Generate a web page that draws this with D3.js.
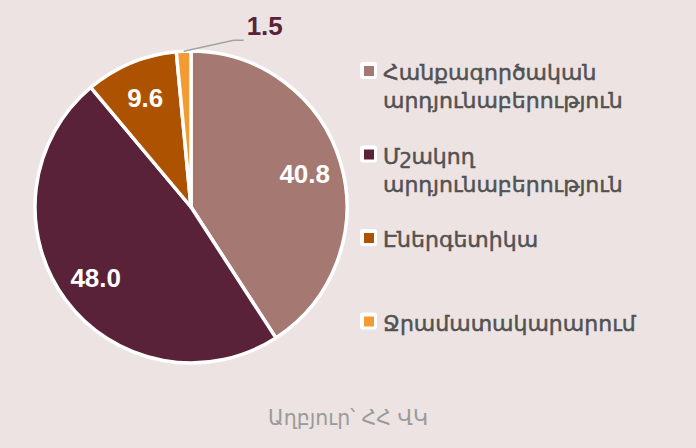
<!DOCTYPE html>
<html><head><meta charset="utf-8">
<script src="https://cdn.jsdelivr.net/npm/d3@7"></script>
<style>
html,body{margin:0;padding:0;background:#ede3e3;}
svg{display:block;}
</style></head>
<body>
<svg id="chart" width="696" height="448"></svg>
<script>
const categories = ["Հանքագործական արդյունաբերություն", "Մշակող արդյունաբերություն", "Էներգետիկա", "Ջրամատակարարում"];
const legendLines = [["Հանքագործական", "արդյունաբերություն"], ["Մշակող", "արդյունաբերություն"], ["Էներգետիկա"], ["Ջրամատակարարում"]];
const values = [40.8, 48.0, 9.6, 1.5];
const colors = ["#a57872", "#5a2238", "#ad5200", "#f39b33"];
const sourceText = "Աղբյուր՝ ՀՀ ՎԿ";

const svg = d3.select("#chart");
const W = 696, H = 448;
svg.append("rect").attr("width", W).attr("height", H).attr("fill", "#ede3e3");

const cx = 191, cy = 207, R = 156;
const g = svg.append("g").attr("transform", `translate(${cx},${cy})`);
const pie = d3.pie().sort(null).value(d => d)(values);
const arc = d3.arc().innerRadius(0).outerRadius(R);
const labelArc = d3.arc().innerRadius(R * 0.76).outerRadius(R * 0.76);
const numFont = "Liberation Sans, Arial, sans-serif";

g.selectAll("path").data(pie).join("path")
  .attr("d", arc)
  .attr("fill", (d, i) => colors[i])
  .attr("stroke", "#ffffff")
  .attr("stroke-width", 3.5)
  .attr("stroke-linejoin", "round");

// inside labels
g.selectAll("text.val").data(pie.filter(d => d.data >= 5)).join("text")
  .attr("class", "val")
  .attr("transform", d => `translate(${labelArc.centroid(d)})`)
  .attr("text-anchor", "middle")
  .attr("dy", "0.36em")
  .attr("fill", "#ffffff")
  .attr("font-family", numFont)
  .attr("font-weight", "bold")
  .attr("font-size", 26)
  .text(d => d3.format(".1f")(d.data));

// outside label with leader
pie.filter(d => d.data < 5).forEach(d => {
  const a = (d.startAngle + d.endAngle) / 2;
  const p0 = [Math.sin(a) * R, -Math.cos(a) * R];
  const p1 = [p0[0] + 50, p0[1] - 11];
  const p2 = [p1[0] + 10, p1[1]];
  g.append("polyline")
    .attr("points", [p0, p1, p2].map(p => p.join(",")).join(" "))
    .attr("fill", "none").attr("stroke", "#a3a3a3").attr("stroke-width", 1.5);
  g.append("text")
    .attr("x", p2[0] + 3).attr("y", p2[1] - 5)
    .attr("fill", "#5a2238")
    .attr("font-family", numFont)
    .attr("font-weight", "bold")
    .attr("font-size", 26)
    .text(d3.format(".1f")(d.data));
});

// legend
const lg = svg.append("g").attr("transform", "translate(360,0)");
const step = 83.5, base0 = 80, lineH = 28;
categories.forEach((c, i) => {
  const by = base0 + i * step;
  const item = lg.append("g");
  item.append("rect").attr("x", 0).attr("y", by - 18).attr("width", 17).attr("height", 17)
    .attr("rx", 3).attr("fill", "#ffffff");
  item.append("rect").attr("x", 4).attr("y", by - 14).attr("width", 10).attr("height", 10)
    .attr("fill", colors[i]);
  const t = item.append("text")
    .attr("font-family", "DejaVu Sans, sans-serif")
    .attr("font-size", 22)
    .attr("fill", "#525252")
    .attr("stroke", "#525252")
    .attr("stroke-width", 0.5);
  legendLines[i].forEach((ln, j) => {
    t.append("tspan").attr("x", 23).attr("y", by + j * lineH).text(ln);
  });
});

svg.append("text")
  .attr("x", W / 2).attr("y", 425)
  .attr("text-anchor", "middle")
  .attr("font-family", "DejaVu Sans, sans-serif")
  .attr("font-size", 20.5)
  .attr("fill", "#9a9a9a")
  .text(sourceText);
</script>
</body></html>
